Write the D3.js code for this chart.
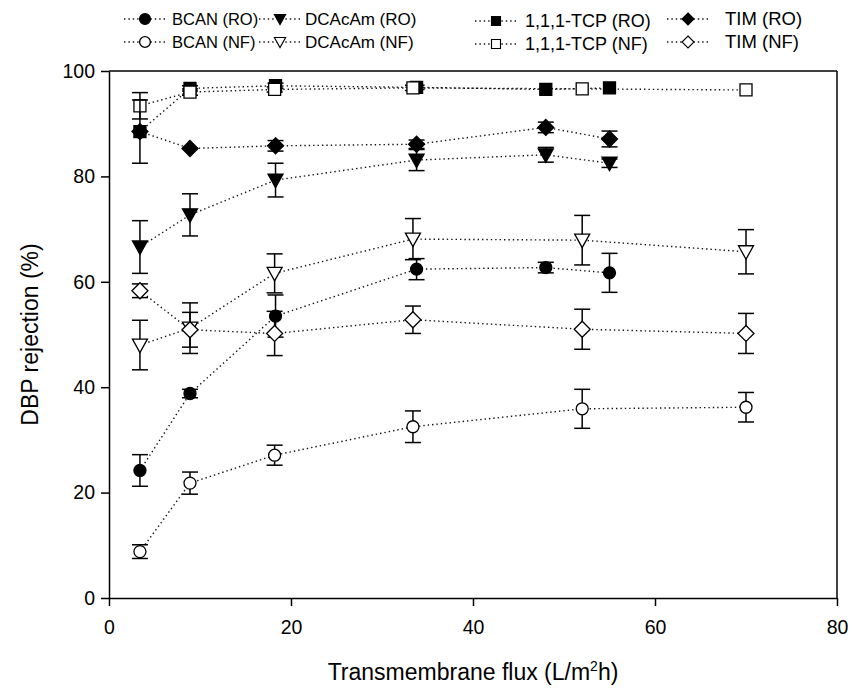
<!DOCTYPE html>
<html><head><meta charset="utf-8">
<script src="https://cdn.jsdelivr.net/npm/d3@7"></script>
<style>body{margin:0;background:#fff}svg{display:block}text{font-family:"Liberation Sans",Arial,sans-serif;fill:#000}</style>
</head><body><svg id="c" width="852" height="688"></svg>
<script>
const xTicks = [0, 20, 40, 60, 80];
const yTicks = [0, 20, 40, 60, 80, 100];
const xRO = [3.4, 8.9, 18.3, 33.8, 48, 55];
const xNF = [3.4, 8.9, 18.2, 33.4, 52, 70];
const bcanRO = [24.2, 38.8, 53.5, 62.4, 62.7, 61.7];
const bcanROErr = [3, 0.8, 4, 2, 1, 3.7];
const bcanNF = [8.8, 21.8, 27.1, 32.5, 35.9, 36.2];
const bcanNFErr = [1.3, 2.1, 1.9, 3, 3.7, 2.8];
const dcaRO = [66.6, 72.7, 79.3, 83.1, 84.1, 82.5];
const dcaROErr = [5, 4, 3.2, 2, 1.4, 0.8];
const dcaNF = [48, 51.2, 61.6, 68.1, 67.9, 65.7];
const dcaNFErr = [4.7, 4.8, 3.7, 3.9, 4.7, 4.2];
const tcpRO = [88.5, 96.7, 97.2, 96.9, 96.5, 96.8];
const tcpROErr = [0, 0.5, 0.5, 0.4, 0, 0];
const tcpNF = [93.4, 96.0, 96.5, 96.8, 96.6, 96.4];
const tcpNFErr = [2.5, 0.6, 0.5, 0.5, 0, 0];
const timRO = [88.5, 85.3, 85.8, 86.1, 89.3, 87.1];
const timROErr = [6, 0, 1, 0.8, 1, 1.5];
const timNF = [58.3, 50.9, 50.2, 52.8, 51, 50.2];
const timNFErr = [1.3, 3.3, 4.2, 2.6, 3.8, 3.8];
const seriesNames = ["BCAN (RO)", "BCAN (NF)", "DCAcAm (RO)", "DCAcAm (NF)", "1,1,1-TCP (RO)", "1,1,1-TCP (NF)", "TIM (RO)", "TIM (NF)"];

const series = [
  {name: seriesNames[0], x: xRO, y: bcanRO, e: bcanROErr, shape: "circle", fill: "#000"},
  {name: seriesNames[1], x: xNF, y: bcanNF, e: bcanNFErr, shape: "circle", fill: "#fff"},
  {name: seriesNames[2], x: xRO, y: dcaRO, e: dcaROErr, shape: "tri", fill: "#000"},
  {name: seriesNames[3], x: xNF, y: dcaNF, e: dcaNFErr, shape: "tri", fill: "#fff"},
  {name: seriesNames[4], x: xRO, y: tcpRO, e: tcpROErr, shape: "square", fill: "#000"},
  {name: seriesNames[5], x: xNF, y: tcpNF, e: tcpNFErr, shape: "square", fill: "#fff"},
  {name: seriesNames[6], x: xRO, y: timRO, e: timROErr, shape: "diamond", fill: "#000"},
  {name: seriesNames[7], x: xNF, y: timNF, e: timNFErr, shape: "diamond", fill: "#fff"}
];

const svg = d3.select("#c");
const L = 109, R = 837, T = 71, B = 598;
const x = d3.scaleLinear().domain([0, 80]).range([L, R]);
const y = d3.scaleLinear().domain([0, 100]).range([B, T]);

function shapePath(s) {
  if (s === "circle") return d3.symbol(d3.symbolCircle, Math.PI * 36)();
  if (s === "square") return "M-6,-6H6V6H-6Z";
  if (s === "tri") return "M-7.5,-6L7.5,-6L0,7.5Z";
  if (s === "diamond") return "M0,-8L8,0L0,8L-8,0Z";
}

// axes
const xAxis = d3.axisBottom(x).tickValues(xTicks).tickSizeInner(8).tickSizeOuter(0).tickPadding(14);
const yAxis = d3.axisLeft(y).tickValues(yTicks).tickSizeInner(8).tickSizeOuter(0).tickPadding(6);
const gx = svg.append("g").attr("transform", `translate(0,${B})`).call(xAxis);
const gy = svg.append("g").attr("transform", `translate(${L},0)`).call(yAxis);
[gx, gy].forEach(g => {
  g.select(".domain").attr("stroke", "#000").attr("stroke-width", 1.5);
  g.selectAll(".tick line").attr("stroke", "#000").attr("stroke-width", 1.5);
  g.selectAll(".tick text").style("font-size", "19.5px").attr("fill", "#000");
});
// frame top/right
svg.append("line").attr("x1", L).attr("x2", R).attr("y1", T).attr("y2", T).attr("stroke", "#000").attr("stroke-width", 1.5);
svg.append("line").attr("x1", R).attr("x2", R).attr("y1", T).attr("y2", B).attr("stroke", "#000").attr("stroke-width", 1.5);

// axis titles
const xt = svg.append("text").attr("x", (L + R) / 2).attr("y", 680).attr("text-anchor", "middle").style("font-size", "23px");
xt.append("tspan").text("Transmembrane flux (L/m");
xt.append("tspan").text("2").attr("dy", -9).style("font-size", "14px");
xt.append("tspan").text("h)").attr("dy", 9);
svg.append("text").attr("transform", `translate(38,${(T + B) / 2}) rotate(-90)`).attr("text-anchor", "middle").style("font-size", "23px").text("DBP rejection (%)");

const line = d3.line().x(d => x(d[0])).y(d => y(d[1]));
const plot = svg.append("g");
// lines
series.forEach(s => {
  const pts = s.x.map((v, i) => [v, s.y[i]]);
  plot.append("path").attr("d", line(pts)).attr("fill", "none").attr("stroke", "#111")
    .attr("stroke-width", 1.4).attr("stroke-dasharray", "1.4,3");
});
// error bars + markers
series.forEach(s => {
  const g = plot.append("g");
  s.x.forEach((v, i) => {
    const e = s.e[i];
    if (e > 0) {
      const cx = x(v), y1 = y(s.y[i] + e), y2 = y(s.y[i] - e);
      g.append("line").attr("x1", cx).attr("x2", cx).attr("y1", y1).attr("y2", y2).attr("stroke", "#000").attr("stroke-width", 1.5);
      [y1, y2].forEach(yy => g.append("line").attr("x1", cx - 8).attr("x2", cx + 8).attr("y1", yy).attr("y2", yy).attr("stroke", "#000").attr("stroke-width", 1.5));
    }
  });
  s.x.forEach((v, i) => {
    g.append("path").attr("d", shapePath(s.shape)).attr("transform", `translate(${x(v)},${y(s.y[i])})`)
      .attr("fill", s.fill).attr("stroke", "#000").attr("stroke-width", 1.3);
  });
});

// legend
const legMark = [145, 280, 496, 688];
const legText = [172, 305, 525, 725];
const legY = [19, 42];
const legFont = [16.5, 17, 18, 18.5];
series.forEach((s, i) => {
  const col = Math.floor(i / 2), row = i % 2;
  const g = svg.append("g").attr("transform", `translate(0,${legY[row] + (col === 2 ? 2 : 0)})`);
  const mx = legMark[col];
  g.append("line").attr("x1", mx - 21).attr("x2", mx + 21).attr("y1", 0).attr("y2", 0).attr("stroke", "#111").attr("stroke-width", 1.4).attr("stroke-dasharray", "1.4,3");
  g.append("path").attr("d", shapePath(s.shape)).attr("transform", `translate(${mx},0) scale(${s.shape === "circle" ? 0.9 : 0.75})`)
    .attr("fill", s.fill).attr("stroke", "#000").attr("stroke-width", 1.5);
  g.append("text").attr("x", legText[col]).attr("y", 6).style("font-size", legFont[col] + "px").text(s.name);
});
</script></body></html>
